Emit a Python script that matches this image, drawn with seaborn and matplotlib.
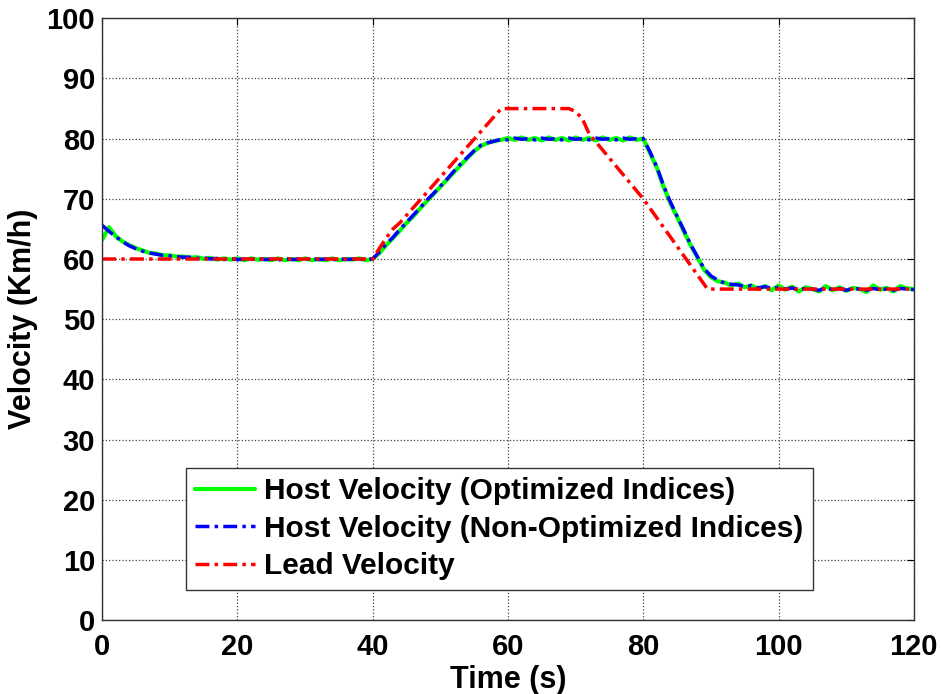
import numpy as np
import pandas as pd
import matplotlib
matplotlib.use("Agg")
import matplotlib.pyplot as plt
import seaborn as sns

# ---- data ----
host_time = list(range(0, 121))
host_opt = [63.2, 65.3, 63.8, 62.9, 62.3, 61.8, 61.4, 61.0, 60.9, 60.6,
            60.6, 60.4, 60.4, 60.2, 60.3, 60.0, 60.2, 59.9, 60.1, 59.9,
            60.1, 59.8, 60.1, 59.9, 60.0, 59.8, 60.1, 59.8, 60.0, 59.8,
            60.1, 59.8, 60.0, 59.8, 60.1, 59.8, 60.0, 59.9, 60.1, 59.8,
            60.0, 61.0, 62.3, 63.5, 64.7, 66.0, 67.1, 68.4, 69.6, 70.8,
            72.0, 73.2, 74.4, 75.6, 76.8, 77.9, 78.8, 79.3, 79.6, 79.8,
            80.1, 79.8, 80.2, 79.8, 80.1, 79.7, 80.2, 79.8, 80.1, 79.7,
            80.2, 79.8, 80.1, 79.7, 80.2, 79.8, 80.1, 79.7, 80.2, 79.8,
            80.0, 77.6, 75.2, 72.0, 69.3, 67.0, 64.6, 62.3, 60.3, 58.2,
            57.0, 56.3, 56.1, 55.6, 55.9, 55.3, 55.6, 55.0, 55.5, 54.8,
            55.6, 54.9, 55.4, 54.6, 55.3, 55.0, 54.6, 55.5, 54.8, 55.3,
            54.7, 55.2, 55.0, 54.5, 55.6, 54.9, 55.2, 54.6, 55.5, 55.1,
            55.0]
host_nonopt = [65.6, 64.6, 63.7, 62.9, 62.2, 61.7, 61.3, 61.0, 60.8, 60.6,
               60.5, 60.4, 60.3, 60.3, 60.1, 60.2, 60.0, 60.1, 59.9, 60.1,
               59.9, 60.0, 59.9, 60.1, 59.9, 60.0, 59.8, 60.1, 59.9, 60.0,
               59.9, 60.1, 59.9, 60.0, 59.8, 60.1, 59.9, 60.0, 59.9, 60.0,
               60.0, 61.2, 62.5, 63.6, 64.9, 66.1, 67.3, 68.5, 69.8, 70.9,
               72.1, 73.3, 74.6, 75.8, 76.9, 78.0, 78.9, 79.3, 79.6, 79.9,
               79.8, 80.1, 79.9, 80.0, 79.8, 80.1, 79.9, 80.0, 79.8, 80.1,
               79.9, 80.0, 79.8, 80.1, 79.9, 80.0, 79.8, 80.1, 79.9, 80.0,
               80.0, 77.8, 75.3, 72.2, 69.5, 67.1, 64.8, 62.4, 60.4, 58.4,
               57.2, 56.5, 56.0, 55.8, 55.7, 55.4, 55.6, 55.2, 55.4, 55.1,
               55.3, 55.0, 55.2, 54.9, 55.1, 55.0, 54.8, 55.2, 54.9, 55.1,
               54.8, 55.1, 55.0, 54.8, 55.1, 54.9, 55.0, 54.8, 55.1, 55.0,
               54.9]
lead_time = [0, 40, 41, 42, 43, 44, 59, 69, 70, 71, 72, 80, 89.5, 120]
lead_vel = [60, 60, 61.8, 63.5, 65.0, 66.0, 85, 85, 84.5, 83.3, 80.8, 70, 55, 55]

labels = ["Host Velocity (Optimized Indices)",
          "Host Velocity (Non-Optimized Indices)",
          "Lead Velocity"]
x_ticks = [0, 20, 40, 60, 80, 100, 120]
y_ticks = [0, 10, 20, 30, 40, 50, 60, 70, 80, 90, 100]

sns.set_style("white")
plt.rcParams['font.family'] = ['Liberation Sans', 'DejaVu Sans']
plt.rcParams['font.weight'] = 'bold'
for k in ['text.color', 'axes.labelcolor', 'xtick.color', 'ytick.color']:
    plt.rcParams[k] = 'black'

fig = plt.figure(figsize=(9.41, 6.94), dpi=100)
ax = fig.add_axes([0.1086, 0.1066, 0.8625, 0.867])

sns.lineplot(x=host_time, y=host_opt, ax=ax, color="#00ff00", linewidth=3.0,
             label=labels[0])
sns.lineplot(x=host_time, y=host_nonopt, ax=ax, color="#0000ff", linewidth=2.5,
             label=labels[1])
ax.lines[-1].set_dashes([4, 1.5, 1, 1.5])
sns.lineplot(x=lead_time, y=lead_vel, ax=ax, color="#ff0000", linewidth=2.5,
             label=labels[2])
ax.lines[-1].set_dashes([4, 1.5, 1, 1.5])

ax.set_xlim(0, 120)
ax.set_ylim(0, 100)
ax.set_xticks(x_ticks)
ax.set_yticks(y_ticks)
ax.tick_params(direction='in', top=True, right=True, labelsize=21, length=5,
               width=0.8, pad=5, colors='black')
ax.tick_params(axis='x', pad=9)
for lab in ax.get_xticklabels() + ax.get_yticklabels():
    lab.set_fontweight('bold')
ax.grid(True, linestyle=':', color='#444444', linewidth=0.9)
for s in ax.spines.values():
    s.set_color('#333333')
    s.set_linewidth(1.0)

ax.set_xlabel("Time (s)", fontsize=22, fontweight='bold', labelpad=3)
ax.set_ylabel("Velocity (Km/h)", fontsize=22, fontweight='bold', labelpad=6)

leg = ax.legend(loc='lower left', bbox_to_anchor=(0.103, 0.05),
                borderaxespad=0, fancybox=False, framealpha=1,
                edgecolor='#333333', prop={'size': 21.5, 'weight': 'bold'},
                handlelength=2.0, handletextpad=0.3, labelspacing=0.32,
                borderpad=0.32)
leg.get_frame().set_linewidth(1.0)

fig.savefig("out.png", dpi=100)
